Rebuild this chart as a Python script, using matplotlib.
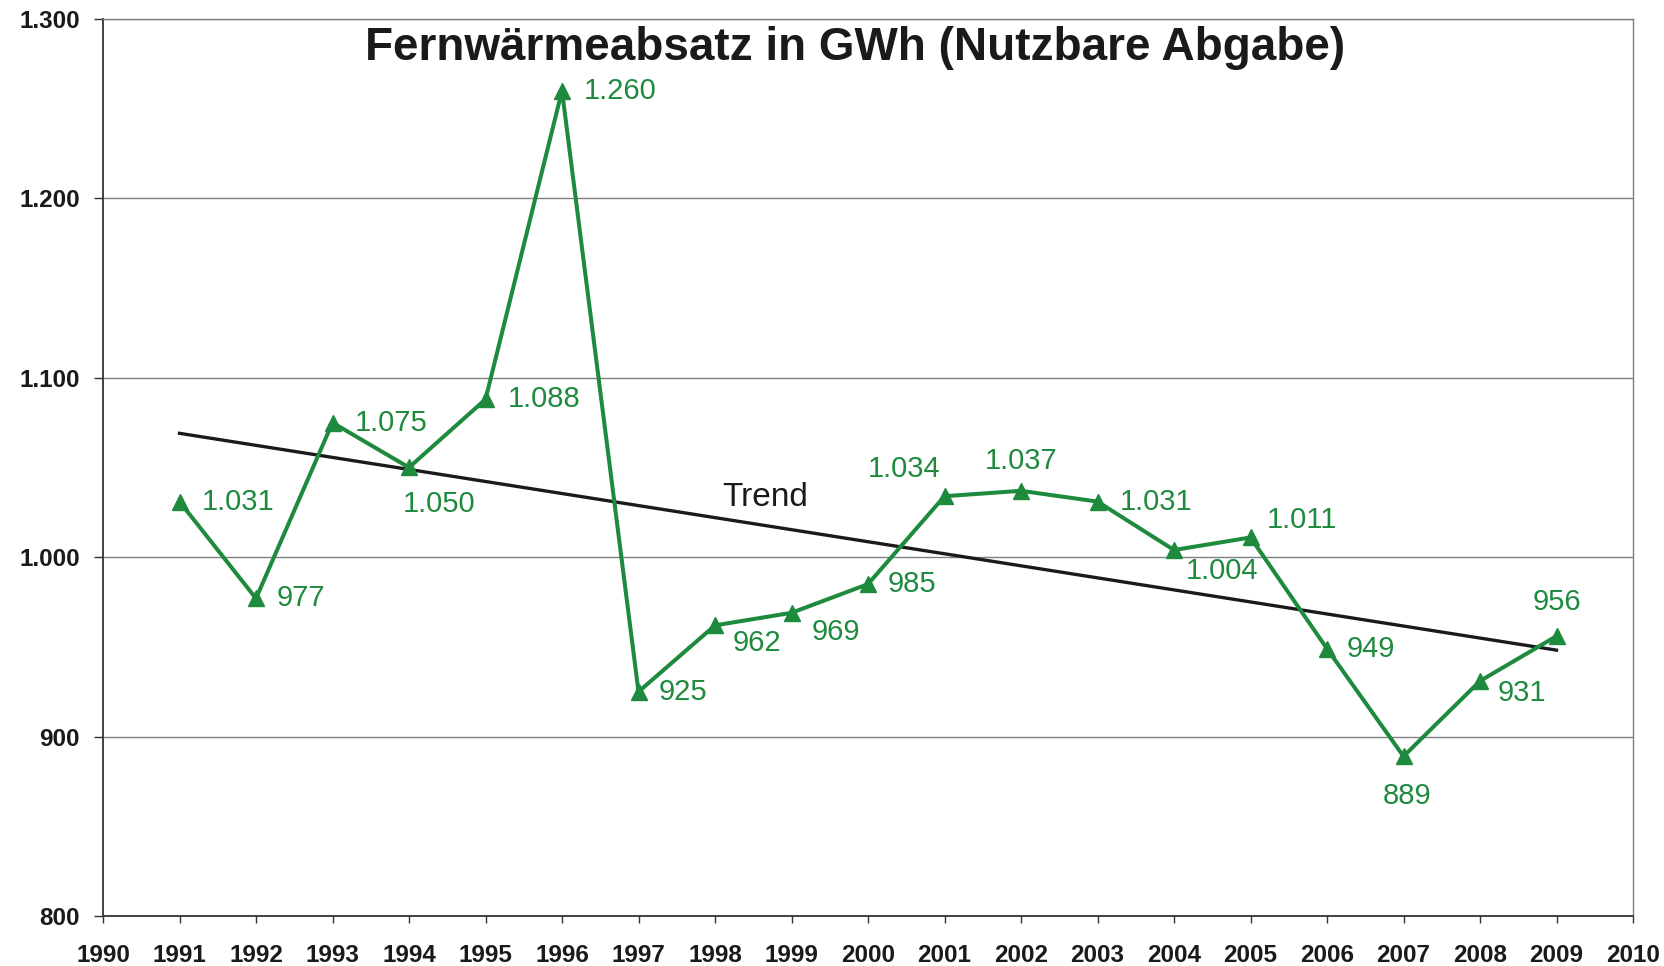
import numpy as np
import matplotlib.pyplot as plt
from matplotlib.ticker import FuncFormatter

# Fernwärmeabsatz in GWh
years = [1991, 1992, 1993, 1994, 1995, 1996, 1997, 1998, 1999, 2000,
         2001, 2002, 2003, 2004, 2005, 2006, 2007, 2008, 2009]
absatz = [1031, 977, 1075, 1050, 1088, 1260, 925, 962, 969, 985,
          1034, 1037, 1031, 1004, 1011, 949, 889, 931, 956]

# label placement (offset in pixels, alignment)
label_pos = [
    (22, 0, 'left'), (21, 0, 'left'), (22, 0, 'left'),
    (30, -36, 'center'), (22, 0, 'left'), (22, 0, 'left'),
    (20, 0, 'left'), (18, -18, 'left'), (20, -19, 'left'),
    (20, 0, 'left'), (-40, 27, 'center'), (0, 30, 'center'),
    (22, 0, 'left'), (12, -21, 'left'), (16, 17, 'left'),
    (20, 0, 'left'), (4, -40, 'center'), (18, -12, 'left'),
    (0, 34, 'center'),
]

green = '#1e8a3e'
grid_col = '#808080'

plt.rcParams['font.family'] = ['Liberation Sans', 'DejaVu Sans']


def de_fmt(v):
    return f'{int(v):,}'.replace(',', '.')


fig = plt.figure(figsize=(16.65, 9.66), dpi=100)
ax = fig.add_axes([103 / 1665, 1 - 916 / 966, 1530 / 1665, 897 / 966])

# trend line (linear fit like in Excel)
k, d = np.polyfit(years, absatz, 1)
tx = np.array([years[0], years[-1]])
ax.plot(tx, k * tx + d, color='#1a1a1a', lw=2.4, zorder=3)
ax.text(1998.65, 1033, 'Trend', fontsize=24, color='#1a1a1a', ha='center', va='center')

ax.plot(years, absatz, color=green, lw=2.9, marker='^', markersize=12, zorder=4)

for x, v, (dx, dy, ha) in zip(years, absatz, label_pos):
    ax.annotate(de_fmt(v), (x, v), xytext=(dx, dy), textcoords='offset pixels',
                ha=ha, va='center', fontsize=21, color=green)

ax.set_xlim(1990, 2010)
ax.set_ylim(800, 1300)
ax.set_xticks(range(1990, 2011))
ax.set_yticks(range(800, 1301, 100))
ax.yaxis.set_major_formatter(FuncFormatter(lambda v, p: de_fmt(v)))
ax.grid(axis='y', color=grid_col, lw=1.0)
ax.set_axisbelow(True)

for s in ['top', 'right']:
    ax.spines[s].set_color(grid_col)
    ax.spines[s].set_linewidth(1.0)
for s in ['left', 'bottom']:
    ax.spines[s].set_color('#333333')
    ax.spines[s].set_linewidth(1.3)

ax.tick_params(axis='y', length=6.5, width=1, color='#333333', pad=10)
ax.tick_params(axis='x', length=5, width=1, color='#333333', pad=15)
for lab in ax.get_xticklabels() + ax.get_yticklabels():
    lab.set_fontweight('bold')
    lab.set_fontsize(17.5)
    lab.set_color('#1a1a1a')

fig.text(855 / 1665, 1 - 48 / 966, 'Fernwärmeabsatz in GWh (Nutzbare Abgabe)',
         ha='center', va='center', fontsize=33, fontweight='bold', color='#1a1a1a')

fig.savefig('out.png', dpi=100)
